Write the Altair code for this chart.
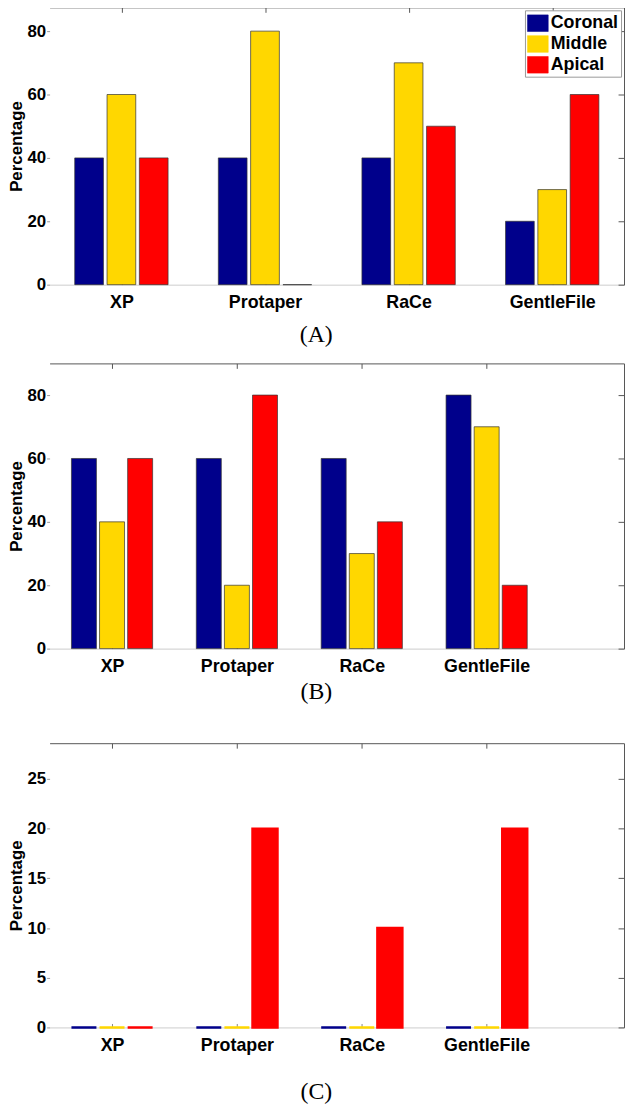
import json
import altair as alt
import pandas as pd

categories = ["XP", "Protaper", "RaCe", "GentleFile"]
series_names = ["Coronal", "Middle", "Apical"]
series_colors = ["#00008B", "#FFD700", "#FF0000"]

a_coronal = [40, 40, 40, 20]
a_middle = [60, 80, 70, 30]
a_apical = [40, 0, 50, 60]

b_coronal = [60, 60, 60, 80]
b_middle = [40, 20, 30, 70]
b_apical = [60, 80, 40, 20]

c_coronal = [0, 0, 0, 0]
c_middle = [0, 0, 0, 0]
c_apical = [0, 20, 10, 20]

y_ticks_ab = [0, 20, 40, 60, 80]
y_ticks_c = [0, 5, 10, 15, 20, 25]


def make_df(cols):
    rows = []
    for si, (name, vals) in enumerate(zip(series_names, cols)):
        for ci, (cat, v) in enumerate(zip(categories, vals)):
            rows.append({"category": cat, "ci": ci + 1, "series": name,
                         "si": si, "value": v})
    return pd.DataFrame(rows)


FONT = "Liberation Sans"
cat_idx = list(range(1, len(categories) + 1))
label_expr = json.dumps(categories) + "[datum.value - 1]"
GAP = 0.225
HALF = 0.1
W = 580


def panel(df, x_max, y_max, y_ticks, height, stroke_w, color_stroke,
          title_text, title_offset, title_lh):
    xs = alt.Scale(domain=[0.5, x_max], nice=False, zero=False)
    ys = alt.Scale(domain=[0, y_max], nice=False)
    color = alt.Color(
        "series:N",
        scale=alt.Scale(domain=series_names, range=series_colors),
        sort=series_names,
        legend=alt.Legend(
            title=None, orient="top-right", offset=3,
            labelFont=FONT, labelFontSize=18, labelFontWeight="bold",
            labelColor="black", labelOffset=2,
            symbolType="M-1,-0.8H1V0.8H-1Z", symbolSize=441,
            symbolStrokeColor="#555", symbolStrokeWidth=0.5,
            rowPadding=0, padding=2,
            strokeColor="#999", fillColor="white",
        ),
    )
    base = alt.Chart(df).transform_calculate(
        x0=f"datum.ci + (datum.si - 1) * {GAP} - {HALF}",
        x1=f"datum.ci + (datum.si - 1) * {GAP} + {HALF}",
    )
    if color_stroke:
        bars = base.mark_bar(strokeWidth=stroke_w).encode(
            stroke=alt.Color("series:N",
                             scale=alt.Scale(domain=series_names, range=series_colors),
                             legend=None))
    else:
        bars = base.mark_bar(stroke="#333", strokeWidth=stroke_w).encode()
    bars = bars.encode(
        x=alt.X("x0:Q", scale=xs, axis=alt.Axis(
            orient="bottom", values=cat_idx, labelExpr=label_expr,
            domainColor="#cccccc", ticks=True, tickColor="#888",
            tickSize={"expr": "-4"}, grid=False, title=None,
            labelFont=FONT, labelFontSize=18, labelFontWeight="bold",
            labelColor="black", labelPadding=13)),
        x2="x1:Q",
        y=alt.Y("value:Q", scale=ys, axis=alt.Axis(
            orient="left", values=y_ticks, domain=False, grid=False,
            tickColor="#999", tickSize=3,
            labelFont=FONT, labelFontSize=17, labelFontWeight="bold",
            labelColor="black", labelPadding=1,
            title="Percentage", titleFont=FONT, titleFontSize=17,
            titleFontWeight="bold", titleColor="black", titlePadding=1)),
        y2=alt.datum(0),
        color=color,
    )
    frame = base.mark_bar(opacity=0).encode(
        x=alt.X("x0:Q", scale=xs, axis=alt.Axis(
            orient="top", values=cat_idx, labels=False, grid=False,
            title=None, domainColor="#555", tickColor="#555",
            minExtent=0, maxExtent=0,
            tickSize={"expr": "-5"})),
        x2="x1:Q",
        y=alt.Y("value:Q", scale=ys, axis=alt.Axis(
            orient="right", values=y_ticks, labels=False, grid=False,
            title=None, domainColor="#555", tickColor="#555",
            minExtent=0, maxExtent=0,
            tickSize={"expr": "-6"})),
        y2=alt.datum(0),
    )
    return alt.layer(bars, frame).resolve_axis(
        x="independent", y="independent"
    ).properties(
        width=W, height=height,
        title=alt.TitleParams(
            text=title_text, orient="bottom", anchor="middle", frame="bounds",
            font="Liberation Serif", fontSize=24, fontWeight="normal",
            color="black", offset=title_offset, lineHeight=title_lh),
    )


pa = panel(make_df([a_coronal, a_middle, a_apical]), 4.5, 87.5, y_ticks_ab,
           280, 0.7, False, "(A)", 12, 24)
pb = panel(make_df([b_coronal, b_middle, b_apical]), 5.1, 90, y_ticks_ab,
           288, 0.7, False, ["(B)", " "], 5, 23)
pc = panel(make_df([c_coronal, c_middle, c_apical]), 5.1, 28.6, y_ticks_c,
           287, 2.5, True, "(C)", 26, 24)

chart = alt.vconcat(pa, pb, pc, spacing=15.5).properties(
    padding={"top": -7, "left": 0, "right": 0, "bottom": 0}
).configure_view(stroke=None)

chart.save("out.html", embed_options={"renderer": "svg", "actions": False})
